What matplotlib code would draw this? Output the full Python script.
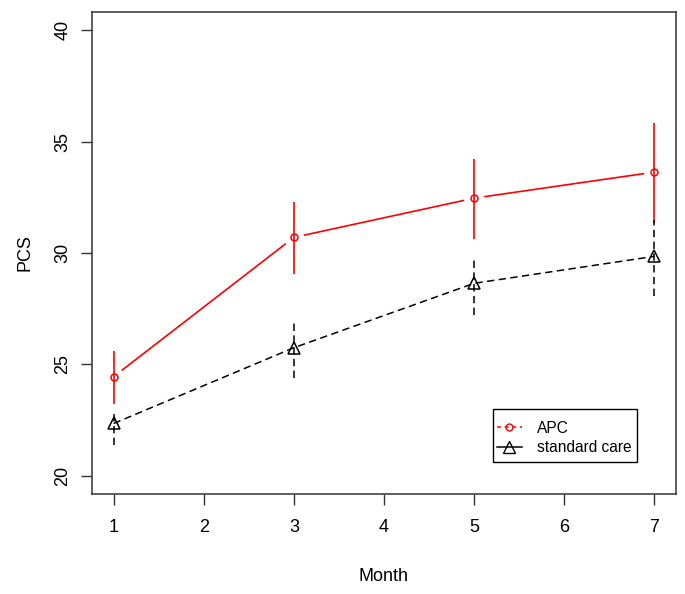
import numpy as np
import matplotlib
matplotlib.use("Agg")
import matplotlib.pyplot as plt
from matplotlib.lines import Line2D
from matplotlib.patches import Rectangle

plt.rcParams['font.family'] = ['Liberation Sans', 'DejaVu Sans']

months = [1, 3, 5, 7]
apc_mean = [24.45, 30.70, 32.46, 33.63]
apc_low = [23.24, 29.06, 30.64, 31.35]
apc_high = [25.60, 32.29, 34.21, 35.83]
std_mean = [22.35, 25.75, 28.64, 29.85]
std_low = [21.38, 24.39, 27.21, 28.08]
std_high = [22.97, 26.88, 29.71, 31.47]
labels = ["APC", "standard care"]
xticks = [1, 2, 3, 4, 5, 6, 7]
yticks = [20, 25, 30, 35, 40]

W, H = 685, 594
fig = plt.figure(figsize=(W / 100, H / 100), dpi=100)
ax = fig.add_axes([92 / W, 1 - 493.7 / H, (676 - 92) / W, (493.7 - 12.3) / H])
ax.set_xlim(0.76, 7.24)
ax.set_ylim(19.2, 40.8)

red = '#ff0000'
dash = (0, (4.8, 2.9))

# error bars
ax.vlines(months, apc_low, apc_high, colors=red, lw=1.2)
ax.vlines(months, std_low, std_high, colors='black', lw=1.1, linestyles=dash)

# standard care: dashed line through points with triangles
ax.plot(months, std_mean, color='black', lw=1.1, linestyle=dash)
ax.plot(months, std_mean, linestyle='none', marker='^', markersize=8.5,
        markerfacecolor='none', markeredgecolor='black', markeredgewidth=1.1)

# APC: solid line with gaps around points (type = "b")
fig.canvas.draw()
pts = ax.transData.transform(np.column_stack([months, apc_mean]))
gap = 11.0
for p0, p1 in zip(pts[:-1], pts[1:]):
    d = p1 - p0
    L = np.hypot(*d)
    u = d / L
    a = p0 + u * gap
    b = p1 - u * gap
    ax.add_line(Line2D([a[0], b[0]], [a[1], b[1]], transform=None,
                       color=red, lw=1.2))
ax.plot(months, apc_mean, linestyle='none', marker='o', markersize=5,
        markerfacecolor='none', markeredgecolor=red, markeredgewidth=1.1)

ax.set_xticks(xticks)
ax.set_yticks(yticks)
ax.set_xticklabels([str(v) for v in xticks])
ax.set_yticklabels([str(v) for v in yticks], rotation=90, va='center')
ax.tick_params(axis='both', length=8, width=1, labelsize=13, pad=7,
               color='#333333', labelcolor='black')
ax.tick_params(axis='x', pad=10)
for s in ax.spines.values():
    s.set_linewidth(1.1)
    s.set_color('#333333')

ax.set_xlabel("Month", fontsize=13, labelpad=23)
ax.set_ylabel("PCS", fontsize=13, labelpad=15)

# legend: frame drawn as a box, entries placed inside
ax.add_patch(Rectangle((0.686, 0.0665), 0.934 - 0.686, 0.176 - 0.0665,
                       transform=ax.transAxes, facecolor='white',
                       edgecolor='black', lw=1.0, zorder=4))
handles = [
    Line2D([], [], color=red, lw=1.1, linestyle=(0, (2.5, 2.5)), marker='o',
           markersize=5, markerfacecolor='none', markeredgecolor=red),
    Line2D([], [], color='black', lw=1.1, linestyle='-', marker='^',
           markersize=8, markerfacecolor='none', markeredgecolor='black'),
]
leg = ax.legend(handles, labels, loc='center left',
                bbox_to_anchor=(0.693, 0.116), borderaxespad=0,
                frameon=False, fontsize=11.2, handlelength=1.6,
                handletextpad=0.96, borderpad=0, labelspacing=0.27)
leg.set_zorder(5)

fig.savefig("out.png", dpi=100)
